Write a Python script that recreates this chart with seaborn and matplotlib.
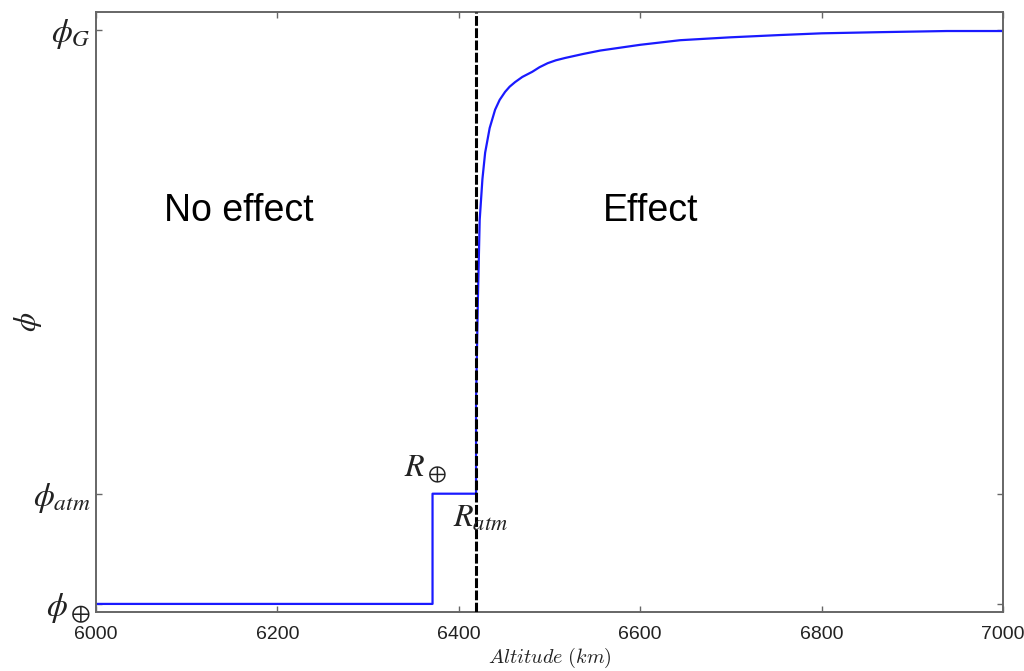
import numpy as np
import pandas as pd
import matplotlib
matplotlib.use("Agg")
import matplotlib.pyplot as plt
import seaborn as sns

# Radii (km)
r_earth = 6371
r_atm = 6419

# Potential profile: flat inside Earth, step in the atmosphere, then rising towards phi_G
altitude = [6000, r_earth, r_earth, r_atm,
            6419, 6421, 6423, 6426, 6429, 6434, 6440, 6445, 6451, 6456, 6462,
            6470, 6481, 6489, 6498, 6507, 6517, 6537, 6556, 6600, 6644, 6699,
            6754, 6800, 6864, 6938, 7000]
phi = [0.0, 0.0, 0.192, 0.192,
       0.355, 0.530, 0.669, 0.740, 0.786, 0.829, 0.861, 0.878, 0.892, 0.901, 0.909,
       0.918, 0.927, 0.935, 0.942, 0.947, 0.951, 0.958, 0.964, 0.974, 0.982, 0.987,
       0.991, 0.994, 0.996, 0.998, 0.998]

ytick_values = [0.0, 0.192, 1.0]
ytick_labels = [r"$\phi_\oplus$", r"$\phi_{atm}$", r"$\phi_G$"]
xtick_values = [6000, 6200, 6400, 6600, 6800, 7000]

df = pd.DataFrame({"altitude": altitude, "phi": phi})

sns.set_style("white")
plt.rcParams["font.family"] = ["Liberation Sans", "DejaVu Sans"]

fig = plt.figure(figsize=(10.24, 6.71), dpi=100)
ax = fig.add_axes([0.0938, 0.088, 0.8857, 0.894])

sns.lineplot(data=df, x="altitude", y="phi", estimator=None, sort=False,
             color="#1a1aff", linewidth=1.6, ax=ax)
ax.axvline(r_atm, color="black", linestyle=(0, (3.2, 0.8)), linewidth=2.2, zorder=3)

ax.set_xlim(6000, 7000)
ax.set_ylim(-0.014, 1.031)
ax.set_xticks(xtick_values)
ax.set_xticklabels([str(v) for v in xtick_values], fontsize=14, color="#222222")
ax.set_yticks(ytick_values)
ax.set_yticklabels(ytick_labels)
for lbl in ax.get_yticklabels():
    lbl.set_fontsize(24)
    lbl.set_math_fontfamily("stix")
    lbl.set_color("#222222")

ax.tick_params(direction="in", length=4, width=1, color="#666666",
               top=True, right=True, bottom=True, left=True)
ax.tick_params(axis="x", pad=10)
ax.tick_params(axis="y", pad=4)
for s in ax.spines.values():
    s.set_color("#666666")
    s.set_linewidth(1.4)

ax.set_xlabel(r"$Altitude\ (km)$", fontsize=14.5, math_fontfamily="cm", color="#222222")
ax.xaxis.set_label_coords(0.5, -0.057)
ax.set_ylabel(r"$\phi$", fontsize=22, math_fontfamily="stix", va="center", color="#222222")
ax.yaxis.set_label_coords(-0.075, 0.483)

ax.text(6157, 0.685, "No effect", fontsize=27, ha="center", va="center", color="black")
ax.text(6611, 0.685, "Effect", fontsize=27, ha="center", va="center", color="black")
ax.text(6387, 0.235, r"$R_\oplus$", fontsize=23, math_fontfamily="stix",
        ha="right", va="center", color="#222222")
ax.text(6424.5, 0.148, r"$R_{atm}$", fontsize=23, math_fontfamily="stix",
        ha="center", va="center", color="#222222")

fig.savefig("out.png", dpi=100)
